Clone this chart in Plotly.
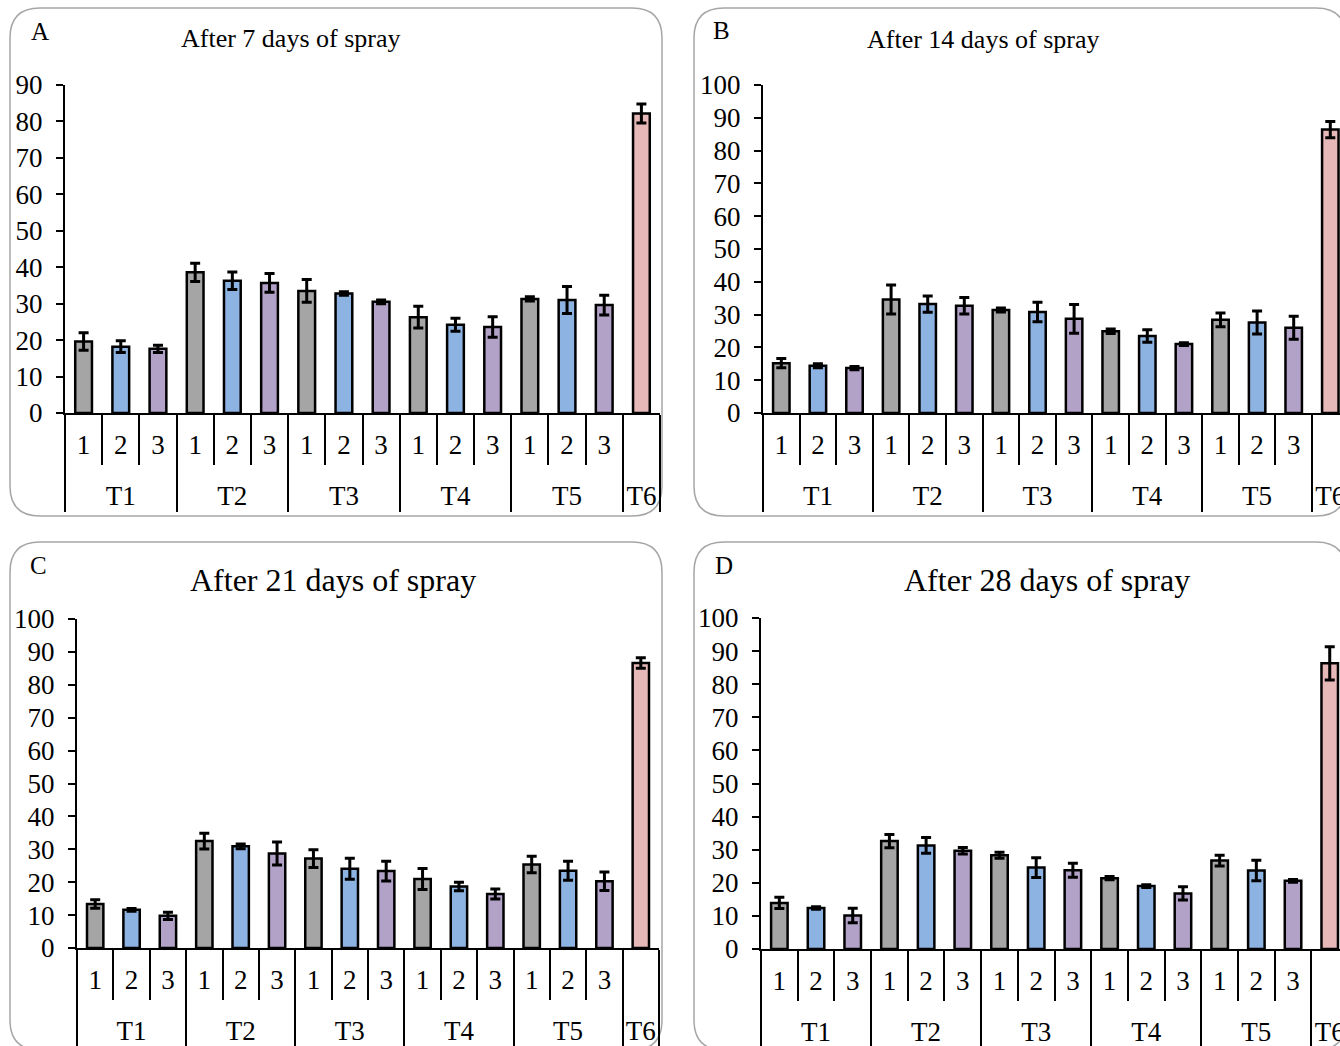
import plotly.graph_objects as go

# ---------------- data ----------------
groups = ["T1"] * 3 + ["T2"] * 3 + ["T3"] * 3 + ["T4"] * 3 + ["T5"] * 3 + ["T6"]
# T6 has no replicate label; a tall invisible spacer keeps the group row lower
reps = ["1", "2", "3"] * 5 + ["<span style='font-size:50px'>\u00a0</span>"]

titles = ["After 7 days of spray", "After 14 days of spray",
          "After 21 days of spray", "After 28 days of spray"]
letters = ["A", "B", "C", "D"]

vals_7 = [19.6, 18.2, 17.6, 38.6, 36.3, 35.7, 33.5, 32.8, 30.5,
          26.3, 24.2, 23.6, 31.3, 31.0, 29.6, 82.2]
err_7 = [2.4, 1.6, 1.0, 2.5, 2.4, 2.6, 3.1, 0.5, 0.5,
         3.0, 1.8, 2.8, 0.6, 3.7, 2.7, 2.6]

vals_14 = [15.2, 14.4, 13.7, 34.6, 33.2, 32.7, 31.4, 30.8, 28.7,
           24.9, 23.5, 21.0, 28.4, 27.6, 26.0, 86.4]
err_14 = [1.4, 0.6, 0.5, 4.4, 2.5, 2.5, 0.6, 3.0, 4.4,
          0.7, 1.9, 0.4, 2.1, 3.5, 3.5, 2.5]

vals_21 = [13.4, 11.6, 9.8, 32.5, 30.9, 28.7, 27.2, 24.1, 23.4,
           21.0, 18.7, 16.4, 25.4, 23.5, 20.3, 86.6]
err_21 = [1.3, 0.4, 1.1, 2.4, 0.7, 3.5, 2.7, 3.2, 3.0,
          3.2, 1.3, 1.5, 2.5, 2.9, 2.8, 1.6]

vals_28 = [13.9, 12.4, 10.1, 32.6, 31.3, 29.7, 28.3, 24.6, 23.8,
           21.4, 19.0, 16.8, 26.7, 23.7, 20.6, 86.3]
err_28 = [1.7, 0.4, 2.2, 2.0, 2.4, 1.0, 0.9, 3.0, 2.1,
          0.5, 0.4, 2.0, 1.6, 3.1, 0.4, 5.0]

y_max = [90, 100, 100, 100]

# ---------------- style ----------------
GRAY, BLUE, PURPLE, PINK = "#A5A5A5", "#8DB3E2", "#B3A2C7", "#E6B8B7"
bar_colors = [GRAY, BLUE, PURPLE] * 5 + [PINK]
FONT = "Liberation Serif"
W, H = 1340, 1046

series = [(vals_7, err_7), (vals_14, err_14), (vals_21, err_21), (vals_28, err_28)]

# plot area pixel boxes: (x_left, x_right_visible, y_zero, y_top, x_range_end)
boxes = [
    (65, 660, 413, 85, 15.5),
    (763, 1340, 413, 85, 15.265),
    (77, 659, 948, 619, 15.5),
    (761, 1340, 949, 618, 15.28),
]

fig = go.Figure()
for i, ((v, e), box) in enumerate(zip(series, boxes)):
    n = "" if i == 0 else str(i + 1)
    fig.add_trace(go.Bar(
        x=[groups, reps], y=v,
        marker=dict(color=bar_colors, line=dict(color="black", width=2.5)),
        error_y=dict(type="data", array=e, color="black", thickness=3, width=5),
        xaxis="x" + n, yaxis="y" + n, showlegend=False,
    ))
    xl, xr, y0, yt, xend = box
    fig.update_layout({
        "xaxis" + n: dict(
            type="multicategory", domain=[xl / W, xr / W], anchor="y" + n,
            range=[-0.5, xend], automargin=False,
            showline=True, linecolor="black", linewidth=2,
            ticks="outside", tickson="boundaries", ticklen=50, tickwidth=2,
            tickcolor="black",
            showdividers=True, dividercolor="black", dividerwidth=2,
            tickfont=dict(family=FONT, size=27, color="black"),
            showgrid=False, zeroline=False, ticklabelstandoff=7,
        ),
        "yaxis" + n: dict(
            domain=[1 - y0 / H, 1 - yt / H], anchor="x" + n,
            range=[0, y_max[i]], dtick=10, automargin=False,
            showline=True, linecolor="black", linewidth=2,
            ticks="outside", ticklen=7, tickwidth=2, tickcolor="black",
            tickfont=dict(family=FONT, size=27, color="black"),
            showgrid=False, zeroline=False, ticklabelstandoff=8,
        ),
    })

# panel frames (rounded rectangles) in pixel -> paper coords
def rounded(x0, y0, x1, y1, r=30):
    def px(x):
        return x / W
    def py(y):
        return 1 - y / H
    return (f"M {px(x0 + r)},{py(y0)} L {px(x1 - r)},{py(y0)} "
            f"Q {px(x1)},{py(y0)} {px(x1)},{py(y0 + r)} "
            f"L {px(x1)},{py(y1 - r)} Q {px(x1)},{py(y1)} {px(x1 - r)},{py(y1)} "
            f"L {px(x0 + r)},{py(y1)} Q {px(x0)},{py(y1)} {px(x0)},{py(y1 - r)} "
            f"L {px(x0)},{py(y0 + r)} Q {px(x0)},{py(y0)} {px(x0 + r)},{py(y0)} Z")

frames = [(10, 8, 662, 516), (694, 8, 1346, 516), (10, 542, 662, 1050), (694, 542, 1346, 1050)]
shapes = [dict(type="path", path=rounded(*f), xref="paper", yref="paper",
               line=dict(color="#A6A6A6", width=1.5), layer="below") for f in frames]

title_pos = [(291, 38, 26), (983, 40, 26), (333, 580, 32), (1047, 580, 32)]
letter_pos = [(40, 32), (722, 31), (38, 565), (724, 565)]
annotations = []
for t, (tx, ty, ts) in zip(titles, title_pos):
    annotations.append(dict(text=t, x=tx / W, y=1 - ty / H, xref="paper", yref="paper",
                            showarrow=False, xanchor="center", yanchor="middle",
                            font=dict(family=FONT, size=ts, color="black")))
for L, (lx, ly) in zip(letters, letter_pos):
    annotations.append(dict(text=L, x=lx / W, y=1 - ly / H, xref="paper", yref="paper",
                            showarrow=False, xanchor="center", yanchor="middle",
                            font=dict(family=FONT, size=25, color="black")))

fig.update_layout(
    width=W, height=H, margin=dict(l=0, r=0, t=0, b=0, autoexpand=False),
    paper_bgcolor="white", plot_bgcolor="white",
    bargap=0.55, shapes=shapes, annotations=annotations,
    font=dict(family=FONT, color="black"),
)

fig.write_html("out.html", config={"displayModeBar": False},
               post_script="document.body.style.margin='0';document.body.style.overflow='hidden';")
